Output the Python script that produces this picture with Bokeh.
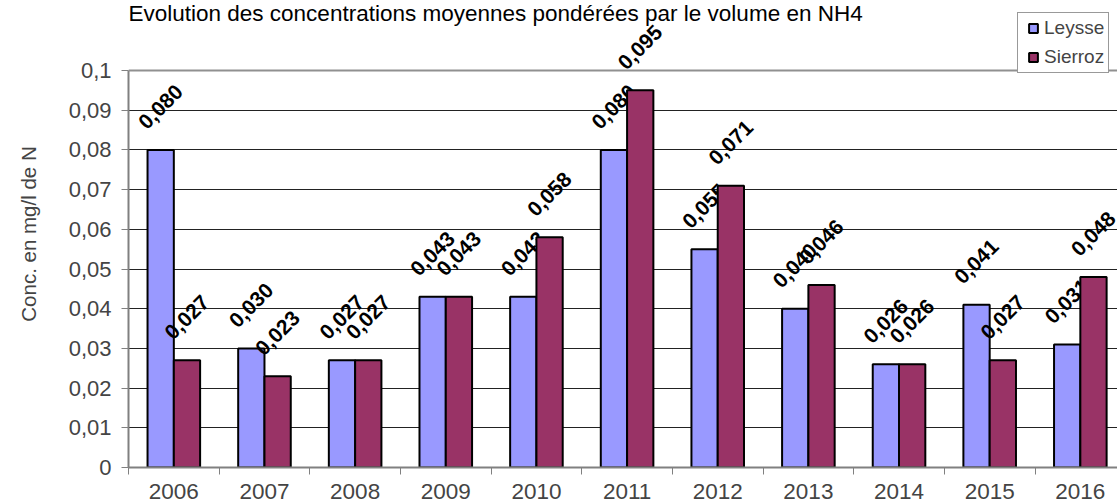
import math
from bokeh.plotting import figure
from bokeh.models import Range1d, FixedTicker, Legend, LegendItem, ColumnDataSource, Label, Span
from bokeh.core.properties import value
from bokeh.embed import file_html
from bokeh.resources import INLINE

# ---- data ----
years = ["2006", "2007", "2008", "2009", "2010", "2011", "2012", "2013", "2014", "2015", "2016"]
leysse = [0.080, 0.030, 0.027, 0.043, 0.043, 0.080, 0.055, 0.040, 0.026, 0.041, 0.031]
sierroz = [0.027, 0.023, 0.027, 0.043, 0.058, 0.095, 0.071, 0.046, 0.026, 0.027, 0.048]
series_names = ["Leysse", "Sierroz"]
series_colors = ["#9999FF", "#993366"]
y_ticks = [0, 0.01, 0.02, 0.03, 0.04, 0.05, 0.06, 0.07, 0.08, 0.09, 0.1]
y_tick_labels = ["0", "0,01", "0,02", "0,03", "0,04", "0,05", "0,06", "0,07", "0,08", "0,09", "0,1"]
title_text = "Evolution des concentrations moyennes pondérées par le volume en NH4"
y_label = "Conc. en mg/l de N"

FONT = "Liberation Sans"

centers = [i + 0.5 for i in range(len(years))]
boundaries = list(range(len(years) + 1))
bar_w = 0.29

# frame spans the full height above the x axis; the value axis stops at its last tick
y_top = y_ticks[-1] * 467.0 / 397.0

p = figure(width=1117, height=504,
           x_range=Range1d(0, 10.91), y_range=Range1d(0, y_top),
           output_backend="svg", toolbar_location=None,
           min_border_left=128, min_border_top=0, min_border_right=0, min_border_bottom=37)

p.background_fill_color = "white"
p.border_fill_color = "white"
p.outline_line_color = None

# y axis
p.yaxis.ticker = FixedTicker(ticks=y_ticks, minor_ticks=[])
p.yaxis.bounds = (y_ticks[0], y_ticks[-1])
p.yaxis.major_label_overrides = {t: l for t, l in zip(y_ticks, y_tick_labels)}
p.yaxis.axis_label = y_label
p.yaxis.axis_label_text_font = FONT
p.yaxis.axis_label_text_font_size = "20.5px"
p.yaxis.axis_label_text_font_style = "normal"
p.yaxis.axis_label_standoff = 26
p.yaxis.major_label_text_font = FONT
p.yaxis.major_label_text_font_size = "22px"
p.yaxis.major_label_standoff = 10
p.yaxis.axis_line_color = "#808080"
p.yaxis.axis_line_width = 2
p.yaxis.major_tick_line_color = "#808080"
p.yaxis.major_tick_out = 7
p.yaxis.major_tick_in = 0

# x axis
p.xaxis.ticker = FixedTicker(ticks=centers, minor_ticks=boundaries)
p.xaxis.major_label_overrides = {c: y for c, y in zip(centers, years)}
p.xaxis.major_label_text_font = FONT
p.xaxis.major_label_text_font_size = "22.5px"
p.xaxis.major_label_standoff = 9
p.xaxis.major_tick_out = 0
p.xaxis.major_tick_in = 0
p.xaxis.minor_tick_out = 7
p.xaxis.minor_tick_in = 0
p.xaxis.minor_tick_line_color = "#808080"
p.xaxis.minor_tick_line_width = 1
p.xaxis.axis_line_color = "#808080"
p.xaxis.axis_line_width = 2

p.xgrid.visible = False
p.ygrid.ticker = FixedTicker(ticks=y_ticks[1:-1], minor_ticks=[])
p.ygrid.grid_line_color = "#222222"
p.ygrid.grid_line_width = 1

# top border of the plot area
p.add_layout(Span(location=y_ticks[-1], dimension="width", line_color="#909090", line_width=2))

legend_renderers = []
for k, (vals, color) in enumerate(zip([leysse, sierroz], series_colors)):
    off = (-0.5 + k) * bar_w
    xs = [c + off for c in centers]
    src = ColumnDataSource(dict(x=xs, top=vals,
                                lbl=[("%.3f" % v).replace(".", ",") for v in vals]))
    p.vbar(x="x", top="top", bottom=0, width=bar_w, source=src,
           fill_color=color, line_color="black", line_width=2)
    p.text(x="x", y="top", text="lbl", source=src, angle=math.pi / 4,
           text_align="center", text_baseline="middle", y_offset=-43,
           text_font=value(FONT), text_font_size="21px", text_font_style="bold",
           text_color="black")
    # zero-size square markers: only their legend swatch is visible
    lr = p.scatter(x="x", y="top", source=src, marker="square", size=0,
                   fill_color=color, line_color="black", line_width=2)
    legend_renderers.append(lr)

# title
p.add_layout(Label(x=0, y=467, x_units="screen", y_units="screen", text=title_text,
                   text_font=FONT, text_font_size="22.5px", text_color="black",
                   text_align="left", text_baseline="top"))

legend = Legend(items=[LegendItem(label=n, renderers=[r]) for n, r in zip(series_names, legend_renderers)],
                location=(889, 394))
legend.label_text_font = FONT
legend.label_text_font_size = "19px"
legend.glyph_width = 22
legend.glyph_height = 22
legend.label_height = 22
legend.spacing = 7
legend.padding = 4
legend.margin = 0
legend.label_standoff = 0
legend.border_line_color = "#333333"
legend.border_line_width = 1
legend.background_fill_color = "white"
legend.background_fill_alpha = 1
p.add_layout(legend, "center")

open("out.html", "w").write(file_html(p, INLINE))
